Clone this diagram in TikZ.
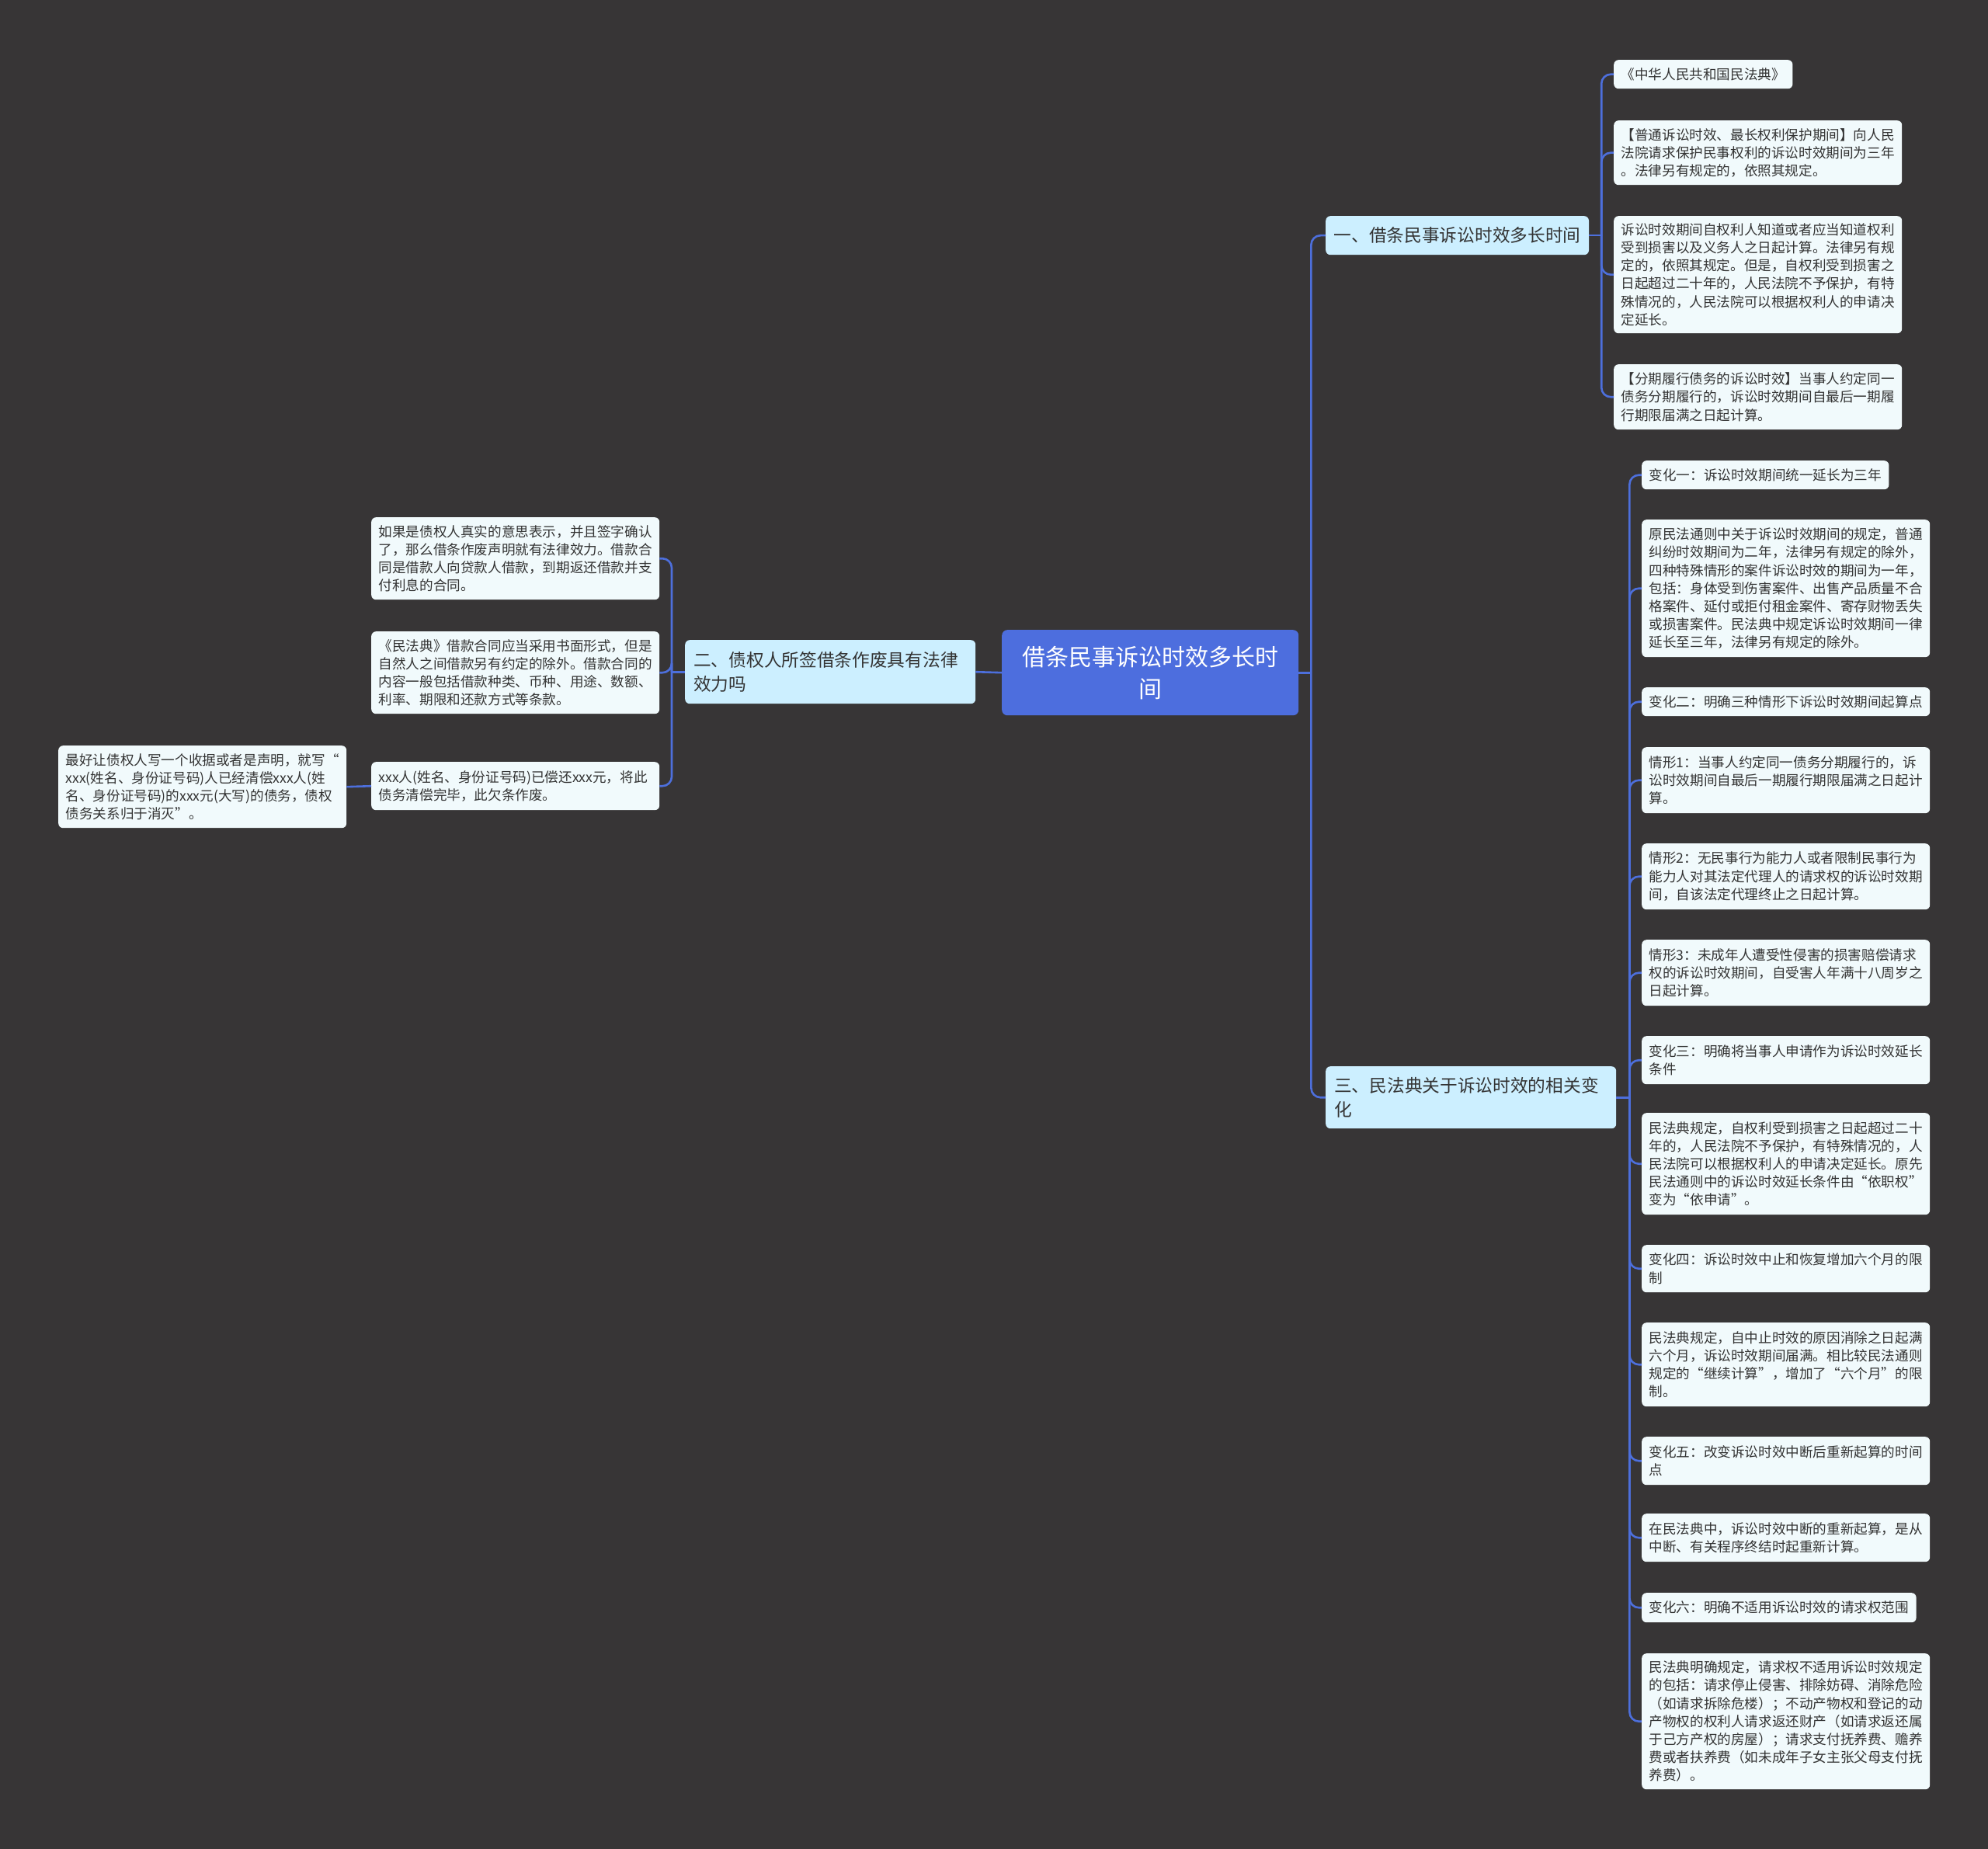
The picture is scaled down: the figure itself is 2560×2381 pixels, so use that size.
\documentclass[tikz,border=0pt]{standalone}
\usepackage{fontspec}
\setmainfont{Noto Sans CJK SC}
\definecolor{bgc}{HTML}{373536}
\definecolor{rootc}{HTML}{4D6EDE}
\definecolor{lvlc}{HTML}{CCEFFF}
\definecolor{leafc}{HTML}{F1FAFC}
\definecolor{linec}{HTML}{4D6FDC}
\definecolor{txtc}{HTML}{333333}
\begin{document}
\begin{tikzpicture}[x=1pt,y=-1pt,
  leafbox/.style={rectangle, rounded corners=6pt, fill=leafc, text=txtc,
    font=\fontsize{17.6}{23.2}\selectfont, align=left, anchor=north west,
    inner xsep=9.5pt, inner ysep=2pt},
  leafw/.style={leafbox, text width=352pt},
  lvlbox/.style={rectangle, rounded corners=6pt, fill=lvlc, text=txtc,
    font=\fontsize{22.7}{30.4}\selectfont, align=left, anchor=north west,
    inner xsep=11pt, inner ysep=2pt},
  lvlw/.style={lvlbox, text width=352pt},
  rootbox/.style={rectangle, rounded corners=7pt, fill=rootc, text=white,
    font=\fontsize{30}{41}\selectfont, align=center, anchor=north west,
    text width=350pt, inner xsep=16pt, inner ysep=2pt},
  conn/.style={draw=linec, line width=2.6pt, rounded corners=12pt}]
\useasboundingbox (0,0) rectangle (2560,2381);
\fill[bgc] (0,0) rectangle (2560,2381);

% root
\node[rootbox, minimum height=110pt] (root) at (1290,811) {借条民事诉讼时效多长时\\间};

% level 1
\node[lvlbox, minimum height=50pt, inner xsep=10.5pt] (one) at (1707,278) {一、借条民事诉讼时效多长时间};
\node[lvlw, minimum height=82pt] (two) at (882,824) {二、债权人所签借条作废具有法律\\效力吗};
\node[lvlw, minimum height=80pt] (three) at (1707,1373) {三、民法典关于诉讼时效的相关变\\化};

% children of one
\node[leafbox, minimum height=37pt] (a1) at (2078,77) {《中华人民共和国民法典》};
\node[leafw, minimum height=83pt] (a2) at (2078,155) {【普通诉讼时效、最长权利保护期间】向人民\\法院请求保护民事权利的诉讼时效期间为三年\\。法律另有规定的，依照其规定。};
\node[leafw, minimum height=151pt] (a3) at (2078,278) {诉讼时效期间自权利人知道或者应当知道权利\\受到损害以及义务人之日起计算。法律另有规\\定的，依照其规定。但是，自权利受到损害之\\日起超过二十年的，人民法院不予保护，有特\\殊情况的，人民法院可以根据权利人的申请决\\定延长。};
\node[leafw, minimum height=84pt] (a4) at (2078,469) {【分期履行债务的诉讼时效】当事人约定同一\\债务分期履行的，诉讼时效期间自最后一期履\\行期限届满之日起计算。};

% children of three
\node[leafbox, minimum height=37pt] (c1) at (2114,593) {变化一：诉讼时效期间统一延长为三年};
\node[leafw, minimum height=177pt] (c2) at (2114,669) {原民法通则中关于诉讼时效期间的规定，普通\\纠纷时效期间为二年，法律另有规定的除外，\\四种特殊情形的案件诉讼时效的期间为一年，\\包括：身体受到伤害案件、出售产品质量不合\\格案件、延付或拒付租金案件、寄存财物丢失\\或损害案件。民法典中规定诉讼时效期间一律\\延长至三年，法律另有规定的除外。};
\node[leafbox, minimum height=37pt] (c3) at (2114,885) {变化二：明确三种情形下诉讼时效期间起算点};
\node[leafw, minimum height=85pt] (c4) at (2114,962) {情形1：当事人约定同一债务分期履行的，诉\\讼时效期间自最后一期履行期限届满之日起计\\算。};
\node[leafw, minimum height=85pt] (c5) at (2114,1086) {情形2：无民事行为能力人或者限制民事行为\\能力人对其法定代理人的请求权的诉讼时效期\\间，自该法定代理终止之日起计算。};
\node[leafw, minimum height=85pt] (c6) at (2114,1210) {情形3：未成年人遭受性侵害的损害赔偿请求\\权的诉讼时效期间，自受害人年满十八周岁之\\日起计算。};
\node[leafw, minimum height=62pt] (c7) at (2114,1334) {变化三：明确将当事人申请作为诉讼时效延长\\条件};
\node[leafw, minimum height=131pt] (c8) at (2114,1433) {民法典规定，自权利受到损害之日起超过二十\\年的，人民法院不予保护，有特殊情况的，人\\民法院可以根据权利人的申请决定延长。原先\\民法通则中的诉讼时效延长条件由“依职权”\\变为“依申请”。};
\node[leafw, minimum height=61pt] (c9) at (2114,1603) {变化四：诉讼时效中止和恢复增加六个月的限\\制};
\node[leafw, minimum height=108pt] (c10) at (2114,1703) {民法典规定，自中止时效的原因消除之日起满\\六个月，诉讼时效期间届满。相比较民法通则\\规定的“继续计算”，增加了“六个月”的限\\制。};
\node[leafw, minimum height=62pt] (c11) at (2114,1850) {变化五：改变诉讼时效中断后重新起算的时间\\点};
\node[leafw, minimum height=62pt] (c12) at (2114,1949) {在民法典中，诉讼时效中断的重新起算，是从\\中断、有关程序终结时起重新计算。};
\node[leafbox, minimum height=38pt] (c13) at (2114,2051) {变化六：明确不适用诉讼时效的请求权范围};
\node[leafw, minimum height=175pt] (c14) at (2114,2129) {民法典明确规定，请求权不适用诉讼时效规定\\的包括：请求停止侵害、排除妨碍、消除危险\\（如请求拆除危楼）；不动产物权和登记的动\\产物权的权利人请求返还财产（如请求返还属\\于己方产权的房屋）；请求支付抚养费、赡养\\费或者扶养费（如未成年子女主张父母支付抚\\养费）。};

% children of two
\node[leafw, minimum height=106pt] (b1) at (478,666) {如果是债权人真实的意思表示，并且签字确认\\了，那么借条作废声明就有法律效力。借款合\\同是借款人向贷款人借款，到期返还借款并支\\付利息的合同。};
\node[leafw, minimum height=106pt] (b2) at (478,813) {《民法典》借款合同应当采用书面形式，但是\\自然人之间借款另有约定的除外。借款合同的\\内容一般包括借款种类、币种、用途、数额、\\利率、期限和还款方式等条款。};
\node[leafw, minimum height=62pt] (b3) at (478,981) {xxx人(姓名、身份证号码)已偿还xxx元，将此\\债务清偿完毕，此欠条作废。};
\node[leafw, minimum height=106pt] (d1) at (75,960) {最好让债权人写一个收据或者是声明，就写“\\xxx(姓名、身份证号码)人已经清偿xxx人(姓\\名、身份证号码)的xxx元(大写)的债务，债权\\债务关系归于消灭”。};

% trunk coordinates
\coordinate (rt) at ([xshift=16pt]root.east);
\coordinate (ot) at ([xshift=16pt]one.east);
\coordinate (tt) at ([xshift=17pt]three.east);
\coordinate (wt) at ([xshift=-17pt]two.west);

% connectors
\draw[conn] (root.east) -- (rt);
\draw[conn] (rt) |- (one.west);
\draw[conn] (rt) |- (three.west);
\draw[conn] (root.west) -- (two.east);

\draw[conn] (one.east) -- (ot);
\foreach \n in {a1,a2,a3,a4} \draw[conn] (ot) |- (\n.west);

\draw[conn] (three.east) -- (tt);
\foreach \n in {c1,c2,c3,c4,c5,c6,c7,c8,c9,c10,c11,c12,c13,c14} \draw[conn] (tt) |- (\n.west);

\draw[conn] (two.west) -- (wt);
\foreach \n in {b1,b2,b3} \draw[conn] (wt) |- (\n.east);

\draw[conn] (b3.west) -- (d1.east);
\end{tikzpicture}
\end{document}
